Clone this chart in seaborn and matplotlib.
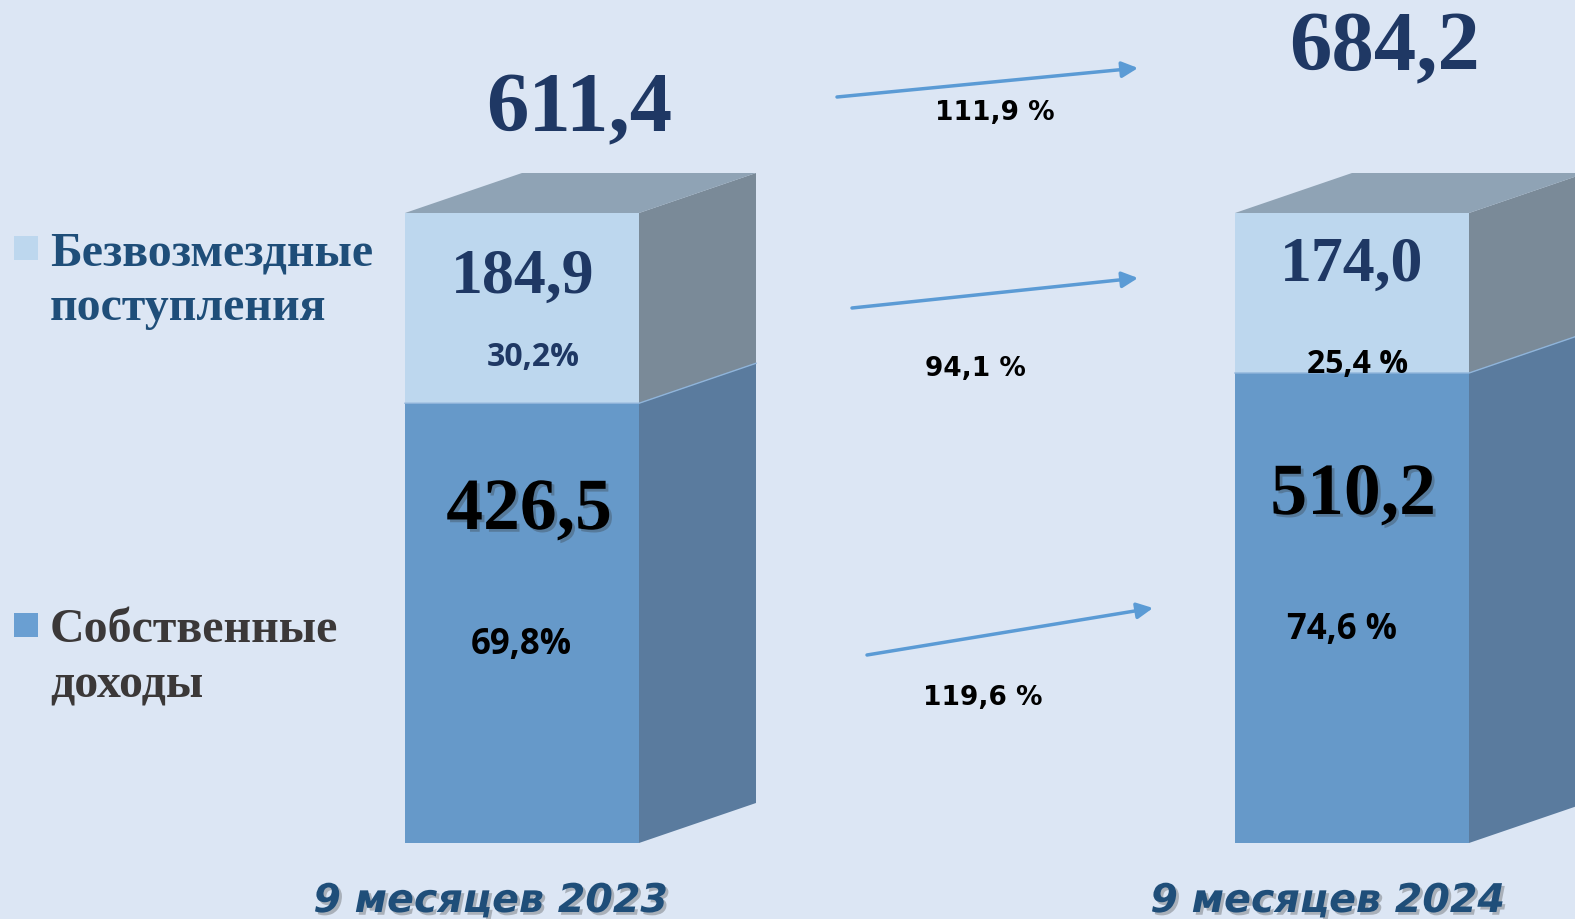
import pandas as pd
import matplotlib
matplotlib.use('Agg')
import matplotlib.pyplot as plt
import matplotlib.patheffects as pe
from matplotlib.patches import Polygon, Rectangle
import seaborn as sns

# data
periods = ['9 месяцев 2023', '9 месяцев 2024']
own_income = [426.5, 510.2]
grants = [184.9, 174.0]
totals = [611.4, 684.2]
own_share = [69.8, 74.6]
grant_share = [30.2, 25.4]
own_share_labels = ['69,8%', '74,6 %']
grant_share_labels = ['30,2%', '25,4 %']
growth = [111.9, 94.1, 119.6]  # total, grants, own
legend_labels = [['Безвозмездные', 'поступления'], ['Собственные', 'доходы']]

BG = '#dce6f4'
FRONT_LOW = '#6699c9'
SIDE_LOW = '#5a7b9e'
FRONT_UP = '#bdd7ee'
SIDE_UP = '#7a8a98'
TOP = '#8fa3b5'
NAVY = '#1f3864'

W_PX, H_PX = 1575, 919
X_ZERO, X_SCALE = 522, 830     # px of first bar centre, px per category
Y_ZERO, Y_SCALE = 843, 6.30    # px of 0 %, px per percent


def px(xp, yp):
    return (xp - X_ZERO) / X_SCALE, (Y_ZERO - yp) / Y_SCALE


def fmt(v):
    return f'{v:.1f}'.replace('.', ',')


fig = plt.figure(figsize=(W_PX / 100, H_PX / 100), dpi=100, facecolor=BG)
ax = fig.add_axes([0, 0, 1, 1])

df = pd.DataFrame({'period': periods, 'own': own_share, 'grant': grant_share})
df['total'] = df['own'] + df['grant']

bar_w = 234 / X_SCALE
sns.barplot(data=df, x='period', y='total', color=FRONT_UP, saturation=1,
            width=bar_w, linewidth=0, ax=ax, zorder=3)
sns.barplot(data=df, x='period', y='own', color=FRONT_LOW, saturation=1,
            width=bar_w, linewidth=0, ax=ax, zorder=3)

# 3d depth: sides and top
dx, dy = 117 / X_SCALE, 40 / Y_SCALE
for i, row in df.iterrows():
    x0, x1 = i - bar_w / 2, i + bar_w / 2
    own, tot = row['own'], row['total']
    ax.add_patch(Polygon([(x1, 0), (x1 + dx, dy), (x1 + dx, own + dy), (x1, own)],
                         closed=True, fc=SIDE_LOW, ec='none', zorder=2))
    ax.add_patch(Polygon([(x1, own), (x1 + dx, own + dy), (x1 + dx, tot + dy), (x1, tot)],
                         closed=True, fc=SIDE_UP, ec='none', zorder=2))
    ax.add_patch(Polygon([(x0, tot), (x0 + dx, tot + dy), (x1 + dx, tot + dy), (x1, tot)],
                         closed=True, fc=TOP, ec='none', zorder=2))
    # thin light seam between the segments
    ax.plot([x0, x1, x1 + dx], [own, own, own + dy], color='#8fb4da', lw=1, zorder=4)

ax.set_xlim(-X_ZERO / X_SCALE, (W_PX - X_ZERO) / X_SCALE)
ax.set_ylim(-(H_PX - Y_ZERO) / Y_SCALE, Y_ZERO / Y_SCALE)
ax.axis('off')

serif = 'Liberation Serif'
shadow = [pe.SimplePatchShadow(offset=(2, -2), shadow_rgbFace='#333333', alpha=0.3), pe.Normal()]

# totals on top
for (xp, yp), v in zip([(579, 131), (1384, 70)], totals):
    ax.text(*px(xp, yp), fmt(v), ha='center', va='baseline', family=serif,
            weight='bold', fontsize=61, color=NAVY, zorder=5)

# grants values and shares
for (xp, yp), v in zip([(523, 293), (1352, 281)], grants):
    ax.text(*px(xp, yp), fmt(v), ha='center', va='baseline', family=serif,
            weight='bold', fontsize=46, color=NAVY, zorder=5)
for (xp, yp), s, c in zip([(533, 366), (1358, 373)], grant_share_labels, [NAVY, 'black']):
    ax.text(*px(xp, yp), s, ha='center', va='baseline', family='Open Sans',
            weight='bold', fontsize=23, color=c, zorder=5)

# own income values and shares
for (xp, yp), v in zip([(529, 529), (1353, 514)], own_income):
    ax.text(*px(xp, yp), fmt(v), ha='center', va='baseline', family=serif,
            weight='bold', fontsize=53, color='black', zorder=5, path_effects=shadow)
for (xp, yp), s in zip([(521, 654), (1342, 639)], own_share_labels):
    ax.text(*px(xp, yp), s, ha='center', va='baseline', family='Open Sans',
            weight='bold', fontsize=25, color='black', zorder=5)

# growth arrows
arrows = [((837, 97), (1138, 68)), ((852, 308), (1138, 278)), ((867, 655), (1153, 608))]
for (s, e), g, (xp, yp) in zip(arrows, growth, [(995, 120), (975, 376), (983, 705)]):
    ax.annotate('', xy=px(*e), xytext=px(*s),
                arrowprops=dict(arrowstyle='-|>', color='#5b9bd5', lw=2.5,
                                mutation_scale=24, shrinkA=0, shrinkB=0))
    ax.text(*px(xp, yp), fmt(g) + ' %', ha='center', va='baseline', family='DejaVu Sans',
            weight='bold', fontsize=19, color='black', zorder=5)

# period labels
for (xp, yp), p in zip([(491, 912), (1328, 912)], periods):
    ax.text(*px(xp, yp), p, ha='center', va='baseline', family='DejaVu Sans',
            weight='bold', style='italic', fontsize=28.5, color='#1f4e79', zorder=5,
            path_effects=shadow)

# legend
leg_colors = [FRONT_UP, '#6a9fd2']
leg_text_colors = ['#1f4e79', '#3b3838']
for lines, yb, fc, tc in zip(legend_labels, [265, 642], leg_colors, leg_text_colors):
    fig.patches.append(Rectangle((14 / W_PX, 1 - (yb - 5) / H_PX), 24 / W_PX, 24 / H_PX,
                                 transform=fig.transFigure, fc=fc, ec='none'))
    for k, line in enumerate(lines):
        fig.text(50 / W_PX, 1 - (yb + 55 * k) / H_PX, line, ha='left', va='baseline',
                 family=serif, weight='bold', fontsize=34.5, color=tc)

fig.savefig('out.png', dpi=100, facecolor=BG)
